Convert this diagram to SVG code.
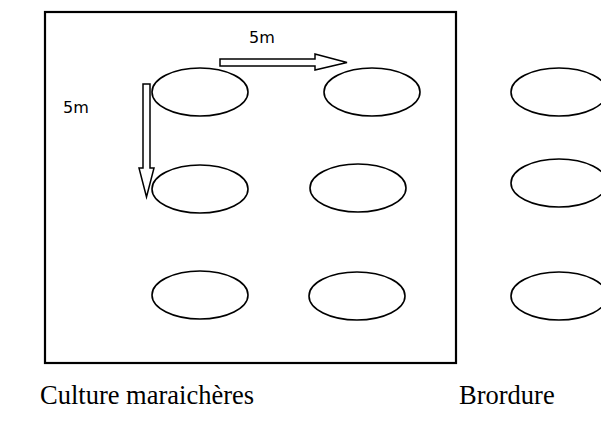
<svg xmlns="http://www.w3.org/2000/svg" width="601" height="430" viewBox="0 0 601 430">
<style>
.plot{fill:#fff;stroke:#000;stroke-width:1.6}
.arr{fill:#fff;stroke:#000;stroke-width:1.5;stroke-linejoin:miter}
.lbl{font-family:"DejaVu Sans",sans-serif;font-size:16px;fill:#000}
.cap{font-family:"Liberation Serif",serif;font-size:26.5px;fill:#000}
</style>
<rect width="601" height="430" fill="#fff"/>
<g id="field"><rect x="45" y="12" width="411" height="351" fill="none" stroke="#000" stroke-width="2.2"/></g>
<g id="plant-1-1"><ellipse class="plot" cx="200" cy="92" rx="48" ry="24"/></g>
<g id="plant-1-2"><ellipse class="plot" cx="372" cy="92" rx="48" ry="24"/></g>
<g id="plant-1-3"><ellipse class="plot" cx="559" cy="92" rx="48" ry="24"/></g>
<g id="plant-2-1"><ellipse class="plot" cx="200" cy="189" rx="48" ry="24"/></g>
<g id="plant-2-2"><ellipse class="plot" cx="358" cy="188" rx="48" ry="24"/></g>
<g id="plant-2-3"><ellipse class="plot" cx="559" cy="183" rx="48" ry="24"/></g>
<g id="plant-3-1"><ellipse class="plot" cx="200" cy="295" rx="48" ry="24"/></g>
<g id="plant-3-2"><ellipse class="plot" cx="357" cy="296" rx="48" ry="24"/></g>
<g id="plant-3-3"><ellipse class="plot" cx="559" cy="296" rx="48" ry="24"/></g>
<g id="connectors">
<polygon class="arr" points="220,59 315,59 315,54 347,62.5 315,70 315,66 220,66"/>
<polygon class="arr" points="143,84 150,84 150,168 154,168 146.5,197 139,168 143,168"/>
</g>
<g id="labels">
<text class="lbl" x="249" y="43">5m</text>
<text class="lbl" x="63" y="113">5m</text>
<text class="cap" x="40" y="404">Culture maraichères</text>
<text class="cap" x="459" y="404">Brordure</text>
</g>
</svg>
